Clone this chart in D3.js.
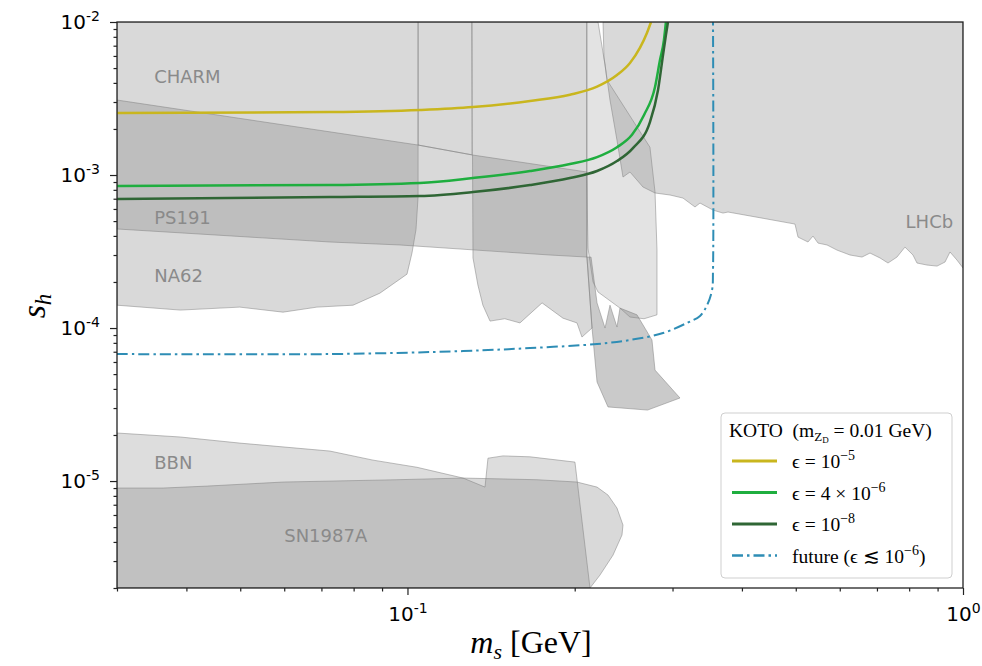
<!DOCTYPE html>
<html>
<head>
<meta charset="utf-8">
<script src="https://cdn.jsdelivr.net/npm/d3@7"></script>
<style>
  body { margin: 0; background: #fff; }
  svg { display: block; }
</style>
</head>
<body>
<div id="chart"></div>
<script>
// excluded regions, points are [m_s (GeV), s_h]
const na62Region = [[0.03,1e-2],[0.1045,1e-2],[0.1045,7.2e-4],[0.1036,4.4e-4],[0.1019,3.1e-4],[0.0998,2.25e-4],[0.0892,1.69e-4],[0.0798,1.41e-4],[0.0687,1.37e-4],[0.0597,1.27e-4],[0.0499,1.37e-4],[0.039,1.31e-4],[0.03,1.41e-4]]
const charmRegion = [[0.1045,1e-2],[0.1306,1e-2],[0.1306,1.355e-3],[0.1045,1.57e-3]]
const ps191Region = [[0.03,3.09e-3],[0.1045,1.57e-3],[0.1312,1.35e-3],[0.2104,1.046e-3],[0.2104,2.91e-4],[0.1805,3.0e-4],[0.0969,3.49e-4],[0.0725,3.65e-4],[0.03,4.44e-4]]
const kPlusRegion = [[0.1306,1e-2],[0.2104,1e-2],[0.2104,2.91e-4],[0.2149,1.0e-4],[0.2061,8.73e-5],[0.2019,1.08e-4],[0.1905,1.16e-4],[0.1747,1.46e-4],[0.1594,1.08e-4],[0.1497,1.15e-4],[0.1408,1.11e-4],[0.1367,1.41e-4],[0.1339,1.91e-4],[0.1312,2.87e-4]]
const kLongRegion = [[0.2102,1e-2],[0.2203,1e-2],[0.2268,5.24e-3],[0.2286,4.18e-3],[0.2732,1.52e-3],[0.279,7.74e-4],[0.2813,3.23e-4],[0.2813,1.22e-4],[0.2666,1.15e-4],[0.2515,1.18e-4],[0.2413,1.35e-4],[0.2203,1.72e-4],[0.2158,2.0e-4],[0.2113,3.33e-4],[0.2102,1e-3]]
const tailRegion = [[0.2104,2.91e-4],[0.214,2.91e-4],[0.2194,1.46e-4],[0.2268,1.0e-4],[0.2315,1.41e-4],[0.2383,1.015e-4],[0.2413,1.35e-4],[0.2589,1.22e-4],[0.2755,8.35e-5],[0.279,5.31e-5],[0.3094,3.49e-5],[0.2705,2.91e-5],[0.2296,3.05e-5],[0.2194,4.44e-5],[0.2149,1.0e-4]]
const lhcbRegion = [[0.2249,1e-2],[1,1e-2],[1,2.47e-4],[0.9754,2.78e-4],[0.9476,3.14e-4],[0.9282,2.7e-4],[0.898,2.54e-4],[0.8615,2.58e-4],[0.8264,2.66e-4],[0.8128,3.0e-4],[0.7862,3.38e-4],[0.7606,2.91e-4],[0.7328,2.66e-4],[0.709,2.87e-4],[0.6802,3.09e-4],[0.658,2.91e-4],[0.6261,3.0e-4],[0.5933,3.23e-4],[0.5692,3.49e-4],[0.5483,3.59e-4],[0.537,3.99e-4],[0.526,3.65e-4],[0.5047,3.93e-4],[0.4984,4.78e-4],[0.4437,5.16e-4],[0.3776,5.73e-4],[0.3698,5.64e-4],[0.3548,5.9e-4],[0.3362,6.56e-4],[0.3293,6.18e-4],[0.3133,7.07e-4],[0.2969,7.4e-4],[0.279,7.63e-4],[0.2654,8.35e-4],[0.2515,1.046e-3],[0.2443,9.7e-4],[0.2383,1.69e-3],[0.2315,3.09e-3],[0.2258,5.9e-3]]
const bbnRegion = [[0.03,2.06e-5],[0.039,1.94e-5],[0.0499,1.77e-5],[0.0725,1.57e-5],[0.0867,1.37e-5],[0.104,1.23e-5],[0.1259,1.046e-5],[0.1379,9.13e-6],[0.1396,1.41e-5],[0.1486,1.46e-5],[0.1662,1.44e-5],[0.2002,1.33e-5],[0.2131,2.0e-6],[0.03,2.0e-6]]
const snRegion = [[0.03,9.0e-6],[0.0363,9.0e-6],[0.0436,9.27e-6],[0.0597,9.85e-6],[0.0957,1.02e-5],[0.1259,1.046e-5],[0.1711,1.02e-5],[0.2019,9.85e-6],[0.2194,9.13e-6],[0.2296,8.1e-6],[0.2383,6.66e-6],[0.2443,5.16e-6],[0.2433,4.44e-6],[0.2344,3.28e-6],[0.2221,2.43e-6],[0.2131,2.0e-6],[0.03,2.0e-6]]

// KOTO curves
const eps1e5 = [[0.03,2.54e-3],[0.0725,2.58e-3],[0.1053,2.66e-3],[0.1312,2.78e-3],[0.1662,3.05e-3],[0.1961,3.35e-3],[0.2194,3.78e-3],[0.2383,4.5e-3],[0.2515,5.4e-3],[0.2622,6.8e-3],[0.2698,8.48e-3],[0.2744,1e-2]]
const eps4e6 = [[0.03,8.48e-4],[0.0725,8.6e-4],[0.1053,8.87e-4],[0.1312,9.56e-4],[0.1662,1.062e-3],[0.1961,1.18e-3],[0.2194,1.31e-3],[0.2383,1.52e-3],[0.2536,1.83e-3],[0.2666,2.47e-3],[0.279,3.76e-3],[0.2848,5.64e-3],[0.2895,7.62e-3],[0.2919,1e-2]]
const eps1e8 = [[0.03,6.97e-4],[0.0725,7.18e-4],[0.1053,7.29e-4],[0.1312,7.74e-4],[0.1662,8.6e-4],[0.1961,9.56e-4],[0.2194,1.062e-3],[0.2383,1.234e-3],[0.2546,1.5e-3],[0.2732,2.22e-3],[0.2825,3.59e-3],[0.2884,6.08e-3],[0.2919,8.22e-3],[0.2944,1e-2]]
const futureReach = [[0.03,6.76e-5],[0.0725,6.76e-5],[0.1259,7.07e-5],[0.1662,7.4e-5],[0.2194,7.86e-5],[0.2515,8.35e-5],[0.2884,9.27e-5],[0.3186,1.08e-4],[0.3362,1.2e-4],[0.3461,1.41e-4],[0.3534,1.77e-4],[0.3548,2.39e-4],[0.3548,1e-2]]

// region labels
const labelNames = ['CHARM', 'PS191', 'NA62', 'BBN', 'SN1987A', 'LHCb']
const labelMass = [0.035, 0.035, 0.035, 0.035, 0.06, 0.96]
const labelCoupling = [4.0e-3, 4.8e-4, 2.0e-4, 1.2e-5, 4.0e-6, 4.5e-4]

// ticks
const xMajor = [0.1, 1]
const xTickExp = ['-1', '0']
const yMajor = [1e-5, 1e-4, 1e-3, 1e-2]
const yTickExp = ['-5', '-4', '-3', '-2']

const width = 982, height = 666
const margin = { top: 22, right: 19, bottom: 78, left: 117 }

const x = d3.scaleLog().domain([0.03, 1]).range([margin.left, width - margin.right])
const y = d3.scaleLog().domain([2e-6, 1e-2]).range([height - margin.bottom, margin.top])

const svg = d3.select('#chart').append('svg')
    .attr('width', width)
    .attr('height', height)

svg.append('defs').append('clipPath').attr('id', 'plotClip')
    .append('rect')
    .attr('x', margin.left).attr('y', margin.top)
    .attr('width', width - margin.left - margin.right)
    .attr('height', height - margin.top - margin.bottom)

const plot = svg.append('g').attr('clip-path', 'url(#plotClip)')

const line = d3.line().x(d => x(d[0])).y(d => y(d[1]))

const regions = [
    { pts: na62Region, op: 0.3 },
    { pts: charmRegion, op: 0.3 },
    { pts: ps191Region, op: 0.3 },
    { pts: kPlusRegion, op: 0.3 },
    { pts: kLongRegion, op: 0.22 },
    { pts: tailRegion, op: 0.42 },
    { pts: lhcbRegion, op: 0.3 },
    { pts: bbnRegion, op: 0.27 },
    { pts: snRegion, op: 0.3 }
]

plot.selectAll('path.region')
    .data(regions)
    .join('path')
    .attr('class', 'region')
    .attr('d', d => line(d.pts) + 'Z')
    .attr('fill', '#808080')
    .attr('fill-opacity', d => d.op)
    .attr('stroke', '#808080')
    .attr('stroke-opacity', 0.5)
    .attr('stroke-width', 1)

plot.selectAll('text.rlabel')
    .data(labelNames)
    .join('text')
    .attr('class', 'rlabel')
    .attr('x', (d, i) => x(labelMass[i]))
    .attr('y', (d, i) => y(labelCoupling[i]))
    .attr('text-anchor', d => d === 'LHCb' ? 'end' : 'start')
    .attr('font-family', 'DejaVu Sans')
    .attr('font-size', 18)
    .attr('fill', '#8a8a8a')
    .text(d => d)

const smooth = d3.line().x(d => x(d[0])).y(d => y(d[1])).curve(d3.curveMonotoneX)
const rounded = d3.line().x(d => x(d[0])).y(d => y(d[1])).curve(d3.curveCatmullRom.alpha(0.5))

const series = [
    { pts: eps1e5, color: '#c9b61e', dash: null, w: 2.5, gen: smooth },
    { pts: eps4e6, color: '#1fae3f', dash: null, w: 2.5, gen: smooth },
    { pts: eps1e8, color: '#2f6635', dash: null, w: 2.5, gen: smooth },
    { pts: futureReach, color: '#2e8db5', dash: '11,4,2.5,4', w: 2, gen: rounded }
]

plot.selectAll('path.curve')
    .data(series)
    .join('path')
    .attr('class', 'curve')
    .attr('d', d => d.gen(d.pts))
    .attr('fill', 'none')
    .attr('stroke', d => d.color)
    .attr('stroke-width', d => d.w)
    .attr('stroke-dasharray', d => d.dash)

// axes
const isMajor = v => Math.abs(Math.log10(v) - Math.round(Math.log10(v))) < 1e-6

const gx = svg.append('g').attr('transform', `translate(0,${height - margin.bottom})`)
gx.append('g').call(d3.axisBottom(x).tickValues(x.ticks().filter(v => !isMajor(v))).tickSize(3.5).tickSizeOuter(0).tickFormat(''))
gx.append('g').call(d3.axisBottom(x).tickValues(xMajor).tickSize(7).tickSizeOuter(0).tickPadding(12).tickFormat(''))
    .call(g => g.selectAll('.tick text').each(function (d, i) {
        const t = d3.select(this).text('10')
        t.append('tspan').attr('dy', '-0.6em').attr('font-size', 14).text(xTickExp[i])
    }))

const gy = svg.append('g').attr('transform', `translate(${margin.left},0)`)
gy.append('g').call(d3.axisLeft(y).tickValues(y.ticks().filter(v => !isMajor(v))).tickSize(3.5).tickSizeOuter(0).tickFormat(''))
gy.append('g').call(d3.axisLeft(y).tickValues(yMajor).tickSize(7).tickSizeOuter(0).tickPadding(10).tickFormat(''))
    .call(g => g.selectAll('.tick text').each(function (d, i) {
        const t = d3.select(this).text('10')
        t.append('tspan').attr('dy', '-0.6em').attr('font-size', 14).text(yTickExp[i])
    }))

svg.selectAll('.domain').remove()
svg.selectAll('.tick line').attr('stroke', '#222').attr('stroke-width', 1.2)
svg.selectAll('.tick text').attr('font-family', 'DejaVu Sans').attr('font-size', 20).attr('fill', '#000')

svg.append('rect')
    .attr('x', margin.left).attr('y', margin.top)
    .attr('width', width - margin.left - margin.right)
    .attr('height', height - margin.top - margin.bottom)
    .attr('fill', 'none')
    .attr('stroke', '#222')
    .attr('stroke-width', 1.3)

// axis titles
const xTitle = svg.append('text')
    .attr('x', 531).attr('y', 653)
    .attr('text-anchor', 'middle')
    .attr('font-family', 'Liberation Serif, DejaVu Serif, serif')
    .attr('font-size', 32)
    .style('white-space', 'pre')
xTitle.append('tspan').attr('font-style', 'italic').text('m')
xTitle.append('tspan').attr('font-style', 'italic').attr('font-size', 22).attr('dy', 6).text('s')
xTitle.append('tspan').attr('dy', -6).text(' [GeV]')

const yTitle = svg.append('text')
    .attr('transform', 'translate(45,306) rotate(-90)')
    .attr('text-anchor', 'middle')
    .attr('font-family', 'Liberation Serif, DejaVu Serif, serif')
    .attr('font-size', 34)
yTitle.append('tspan').attr('font-style', 'italic').text('s')
yTitle.append('tspan').attr('font-style', 'italic').attr('font-size', 23).attr('dy', 6).text('h')

// legend
const legendLabels = [['ϵ = 10', '−5', ''], ['ϵ = 4 × 10', '−6', ''], ['ϵ = 10', '−8', ''], ['future (ϵ ≲ 10', '−6', ')']]

const legend = svg.append('g').attr('font-family', 'Liberation Serif, DejaVu Serif, serif')
legend.append('rect')
    .attr('x', 721).attr('y', 413).attr('width', 231).attr('height', 165)
    .attr('rx', 4)
    .attr('fill', '#fff').attr('fill-opacity', 0.85)
    .attr('stroke', '#cfcfcf').attr('stroke-width', 1)

const title = legend.append('text')
    .attr('x', 729).attr('y', 437)
    .attr('font-size', 19.5)
    .style('white-space', 'pre')
title.append('tspan').text('KOTO  (m')
title.append('tspan').attr('font-size', 13).attr('dy', 4).text('Z')
title.append('tspan').attr('font-size', 9).attr('dy', 2).text('D')
title.append('tspan').attr('font-size', 19.5).attr('dy', -6).text(' = 0.01 GeV)')

const rows = legend.selectAll('g.row')
    .data(series)
    .join('g')
    .attr('class', 'row')
    .attr('transform', (d, i) => `translate(0,${461 + i * 31.5})`)

rows.append('line')
    .attr('x1', 732).attr('x2', 777)
    .attr('stroke', d => d.color)
    .attr('stroke-width', d => d.w + 0.3)
    .attr('stroke-dasharray', d => d.dash)

rows.append('text')
    .attr('x', 792).attr('y', 7)
    .attr('font-size', 19.5)
    .each(function (d, i) {
        const t = d3.select(this)
        const parts = legendLabels[i]
        t.append('tspan').text(parts[0])
        t.append('tspan').attr('font-size', 14).attr('dy', -8).text(parts[1])
        if (parts[2]) t.append('tspan').attr('dy', 8).text(parts[2])
    })
</script>
</body>
</html>
